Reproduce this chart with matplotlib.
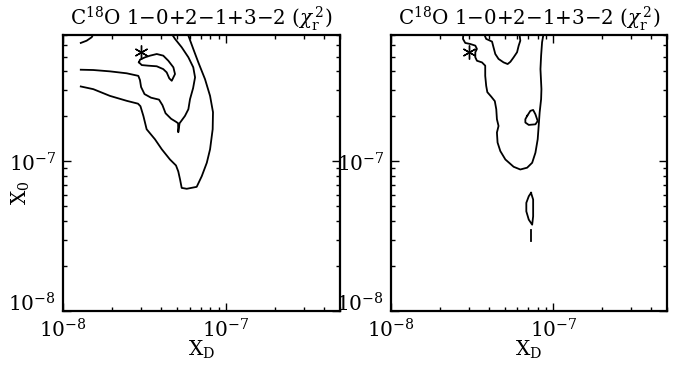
import numpy as np
import matplotlib
matplotlib.use("Agg")
import matplotlib.pyplot as plt
from matplotlib.ticker import LogLocator, NullFormatter, FixedLocator, FixedFormatter

plt.rcParams['font.family'] = ['DejaVu Serif']
plt.rcParams['mathtext.fontset'] = 'dejavuserif'

# ---- data (log10 of abundances) ----
xlim = (1e-8, 5e-7)
ylim = (1e-8, 7e-7)
best_fit = (3.0e-8, 5.4e-7)
title = r'C$^{18}$O 1$-$0+2$-$1+3$-$2 ($\chi_{\rm r}^{\,2}$)'

# left panel contours
L_arc_x = [-7.891, -7.855, -7.824, -7.810]
L_arc_y = [-6.208, -6.193, -6.170, -6.141]

L_loop_x = [-7.534, -7.528, -7.497, -7.466, -7.425, -7.385, -7.354, -7.323, -7.313, -7.333,
            -7.348, -7.364, -7.385, -7.425, -7.477, -7.517, -7.534]
L_loop_y = [-6.338, -6.320, -6.304, -6.293, -6.282, -6.293, -6.327, -6.371, -6.416, -6.461,
            -6.445, -6.405, -6.383, -6.364, -6.360, -6.356, -6.338]

L_mid_x = [-7.891, -7.814, -7.712, -7.609, -7.538, -7.528, -7.521, -7.500, -7.460, -7.411,
           -7.390, -7.371, -7.337, -7.307, -7.294, -7.293, -7.285, -7.252, -7.231, -7.221,
           -7.202, -7.190, -7.201, -7.231, -7.272, -7.313, -7.337]
L_mid_y = [-6.387, -6.389, -6.398, -6.411, -6.428, -6.456, -6.503, -6.550, -6.574, -6.587,
           -6.624, -6.678, -6.715, -6.735, -6.745, -6.805, -6.745, -6.696, -6.651, -6.584,
           -6.510, -6.438, -6.371, -6.304, -6.237, -6.181, -6.141]

L_out_x = [-7.891, -7.814, -7.712, -7.609, -7.540, -7.525, -7.507, -7.487, -7.436, -7.394,
           -7.344, -7.307, -7.293, -7.282, -7.272, -7.241, -7.180, -7.149, -7.118, -7.098,
           -7.082, -7.080, -7.098, -7.129, -7.170, -7.201, -7.231, -7.236]
L_out_y = [-6.499, -6.517, -6.562, -6.595, -6.614, -6.631, -6.696, -6.785, -6.852, -6.919,
           -6.987, -7.027, -7.067, -7.121, -7.177, -7.183, -7.170, -7.099, -7.009, -6.919,
           -6.785, -6.671, -6.562, -6.450, -6.338, -6.248, -6.159, -6.141]

# right panel contours
R_main_x = [-7.554, -7.557, -7.543, -7.512, -7.481, -7.471, -7.481, -7.481, -7.471, -7.440,
            -7.420, -7.420, -7.414, -7.407, -7.383, -7.361, -7.352, -7.348, -7.338, -7.348,
            -7.344, -7.327, -7.296, -7.245, -7.204, -7.162, -7.131, -7.111, -7.097, -7.091,
            -7.085, -7.076, -7.074, -7.076, -7.080, -7.076, -7.070, -7.060]
R_main_y = [-6.141, -6.181, -6.208, -6.215, -6.226, -6.248, -6.270, -6.304, -6.327, -6.338,
            -6.360, -6.428, -6.495, -6.537, -6.567, -6.597, -6.651, -6.718, -6.763, -6.807,
            -6.874, -6.931, -6.987, -7.036, -7.054, -7.042, -7.009, -6.942, -6.852, -6.763,
            -6.673, -6.584, -6.517, -6.472, -6.383, -6.293, -6.203, -6.141]

R_inner_x = [-7.430, -7.414, -7.378, -7.369, -7.358, -7.338, -7.307, -7.282, -7.265, -7.245,
             -7.224, -7.214, -7.204, -7.208, -7.204]
R_inner_y = [-6.141, -6.181, -6.199, -6.237, -6.282, -6.315, -6.338, -6.349, -6.334, -6.304,
             -6.270, -6.226, -6.193, -6.159, -6.141]

R_blob_x = [-7.162, -7.142, -7.125, -7.111, -7.097, -7.111, -7.152, -7.173, -7.173, -7.162]
R_blob_y = [-6.696, -6.662, -6.656, -6.685, -6.730, -6.752, -6.756, -6.740, -6.718, -6.696]

R_lens_x = [-7.138, -7.125, -7.125, -7.131, -7.152, -7.167, -7.167, -7.152, -7.138]
R_lens_y = [-7.210, -7.255, -7.367, -7.423, -7.389, -7.334, -7.277, -7.233, -7.210]

R_dash_x = [-7.138, -7.138]
R_dash_y = [-7.456, -7.535]

left_lines = [(L_arc_x, L_arc_y), (L_loop_x, L_loop_y), (L_mid_x, L_mid_y), (L_out_x, L_out_y)]
right_lines = [(R_main_x, R_main_y), (R_inner_x, R_inner_y), (R_blob_x, R_blob_y),
               (R_lens_x, R_lens_y), (R_dash_x, R_dash_y)]

fig = plt.figure(figsize=(6.9, 3.67), dpi=100)
W, H = 690, 367
ax1 = fig.add_axes([63 / W, (H - 311) / H, 277 / W, 276 / H])
ax2 = fig.add_axes([391 / W, (H - 311) / H, 276 / W, 276 / H])

for ax, lines in ((ax1, left_lines), (ax2, right_lines)):
    ax.set_xscale('log')
    ax.set_yscale('log')
    for lx, ly in lines:
        ax.plot(10 ** np.array(lx), 10 ** np.array(ly), color='black', lw=1.3,
                solid_joinstyle='round')
    ax.plot([best_fit[0]], [best_fit[1]], marker=(6, 2, 0), ms=10, mew=1.0,
            color='black', linestyle='none', clip_on=False)
    ax.set_xlim(*xlim)
    ax.set_ylim(*ylim)
    for s in ax.spines.values():
        s.set_linewidth(1.6)
    ax.xaxis.set_major_locator(FixedLocator([1e-8, 1e-7]))
    ax.xaxis.set_major_formatter(FixedFormatter([r'$10^{-8}$', r'$10^{-7}$']))
    ax.yaxis.set_major_locator(FixedLocator([1e-8, 1e-7]))
    ax.yaxis.set_major_formatter(FixedFormatter([r'$10^{-8}$', r'$10^{-7}$']))
    ax.xaxis.set_minor_locator(LogLocator(base=10, subs=np.arange(2, 10)))
    ax.yaxis.set_minor_locator(LogLocator(base=10, subs=np.arange(2, 10)))
    ax.xaxis.set_minor_formatter(NullFormatter())
    ax.yaxis.set_minor_formatter(NullFormatter())
    ax.tick_params(which='both', direction='in', top=True, right=True, width=1.0,
                   labelsize=14.5, pad=5)
    ax.tick_params(which='major', length=6)
    ax.tick_params(which='minor', length=3)
    ax.set_title(title, fontsize=14.3, pad=7)
    ax.set_xlabel(r'X$_{\rm D}$', fontsize=14.5)
    ax.xaxis.set_label_coords(0.5, -0.10)
    # the lowest y label sits on the bottom axis line, as in the reference
    fig.canvas.draw()
    ax.get_yticklabels()[0].set_verticalalignment('baseline')

ax1.set_ylabel(r'X$_{0}$', fontsize=14.5)
ax1.yaxis.set_label_coords(-0.112, 0.43)

fig.savefig('out.png', dpi=100)
